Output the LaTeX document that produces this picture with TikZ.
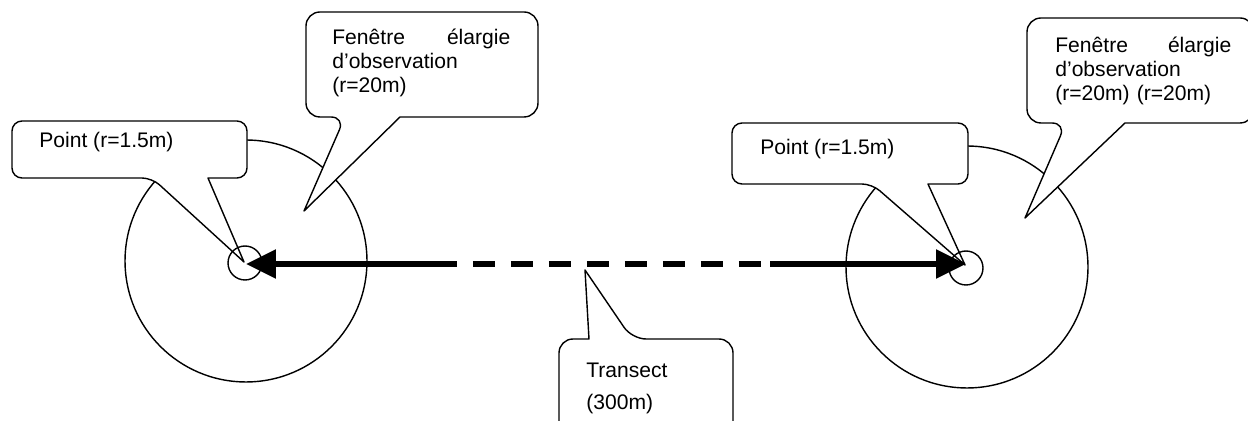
\documentclass[tikz,border=0pt]{standalone}
\usepackage{fontspec}
\setmainfont{Liberation Sans}
\usetikzlibrary{arrows.meta}
\usetikzlibrary{positioning}
\tikzset{bulle/.style = {draw, fill=white, line width=0.8pt, line join=round}}
\tikzset{zone/.style = {draw, circle, line width=0.8pt, inner sep = 0, minimum size = 4.84cm}}
\tikzset{pointc/.style = {draw, circle, line width=0.8pt, inner sep = 0, minimum size = 0.68cm}}
\tikzset{transect/.style = {line width = 0.11cm}}
\tikzset{texte/.style = {anchor=base west, inner sep = 0, align=left, font=\fontsize{12}{13.6}\selectfont}}

\begin{document}
\begin{tikzpicture}[x=0.02cm, y=-0.02cm]
      \useasboundingbox (0, 0) rectangle (1248, 421);
      \clip (0, 0) rectangle (1248, 421);

      % fenetres d'observation
      \node [zone] (wL) at (246, 261) {};
      \node [zone] (wR) at (967, 267) {};

      % bulles
      \draw [bulle] (208, 178) [rounded corners = 0.2cm] -- (247, 178) -- (247, 121) -- (12, 121) -- (12, 178) -- (152, 178) [sharp corners] -- (244, 262) -- cycle;
      \draw [bulle] (400, 117) [rounded corners = 0.28cm] -- (538, 117) -- (538, 12) -- (306, 12) -- (306, 117) -- (345, 117) [sharp corners] -- (304, 211) -- cycle;
      \draw [bulle] (928, 184) [rounded corners = 0.2cm] -- (968, 184) -- (968, 123) -- (732, 123) -- (732, 184) -- (872, 184) [sharp corners] -- (965, 265) -- cycle;
      \draw [bulle] (1125, 123) [rounded corners = 0.28cm] -- (1254, 123) -- (1254, 18) -- (1027, 18) -- (1027, 123) -- (1066, 123) [sharp corners] -- (1025, 218) -- cycle;
      \draw [bulle] (589, 339) [rounded corners = 0.28cm] -- (559, 339) -- (559, 450) -- (733, 450) -- (733, 339) -- (632, 339) [sharp corners] -- (585, 270) -- cycle;

      \node [texte] (tpL) at (39, 148) {Point (r=1.5m)};
      \node [texte] (tpR) at (760, 155) {Point (r=1.5m)};
      \node [texte, text width = 3.56cm] (tfL) at (332, 45) {Fenêtre \hfill élargie\\d’observation\\(r=20m)};
      \node [texte, text width = 3.52cm] (tfR) at (1055, 53) {Fenêtre \hfill élargie\\d’observation\\(r=20m) (r=20m)};
      \node [texte, text width = 3cm, font=\fontsize{12}{18}\selectfont] (tT) at (586, 378) {Transect\\(300m)};

      % points
      \node [pointc] (pL) at (245, 263) {};
      \node [pointc] (pR) at (966, 268) {};

      % transect
      \coordinate (sL) at (446, 264);
      \coordinate (sR) at (770, 264);
      \coordinate (eL) at (246, 264);
      \coordinate (eR) at (966, 264);
      \draw [transect, -{Triangle[length=0.6cm, width=0.56cm]}] (sL) -- (eL);
      \draw [transect, dash pattern = on 0.44cm off 0.32cm, dash phase = 0.22cm] (sL) -- (sR);
      \draw [transect, -{Triangle[length=0.6cm, width=0.56cm]}] (sR) -- (eR);
    \end{tikzpicture}
\end{document}
